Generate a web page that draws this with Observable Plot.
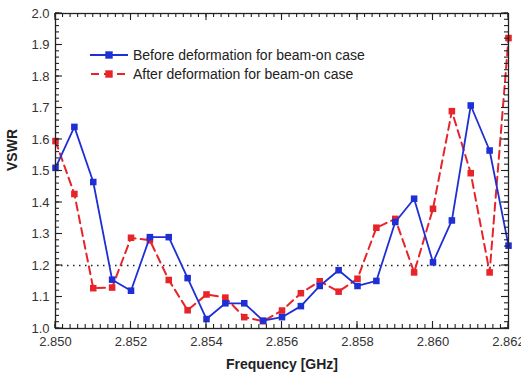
<!DOCTYPE html>
<html>
<head>
<meta charset="utf-8">
<script src="https://cdn.jsdelivr.net/npm/d3@7"></script>
<script src="https://cdn.jsdelivr.net/npm/@observablehq/plot@0.6"></script>
<style>
  html, body { margin: 0; padding: 0; background: #fff; }
  #chart { position: relative; width: 521px; height: 376px; font-family: "Liberation Sans", Arial, sans-serif; }
  #legend { position: absolute; left: 88px; top: 45px; }
</style>
</head>
<body>
<div id="chart"></div>
<script>
const freq = [2.850, 2.8505, 2.851, 2.8515, 2.852, 2.8525, 2.853, 2.8535, 2.854, 2.8545, 2.855, 2.8555, 2.856, 2.8565, 2.857, 2.8575, 2.858, 2.8585, 2.859, 2.8595, 2.860, 2.8605, 2.861, 2.8615, 2.862];
const before = [1.51, 1.64, 1.465, 1.155, 1.12, 1.29, 1.29, 1.16, 1.03, 1.08, 1.08, 1.025, 1.036, 1.071, 1.135, 1.185, 1.135, 1.151, 1.338, 1.412, 1.21, 1.343, 1.708, 1.565, 1.263];
const after = [1.595, 1.427, 1.128, 1.13, 1.288, 1.28, 1.154, 1.058, 1.108, 1.098, 1.036, 1.023, 1.057, 1.112, 1.15, 1.117, 1.158, 1.32, 1.348, 1.178, 1.38, 1.69, 1.493, 1.178, 1.922];
const seriesNames = ["Before deformation for beam-on case", "After deformation for beam-on case"];
const threshold = [1.2];
const xTicks = [2.850, 2.852, 2.854, 2.856, 2.858, 2.860, 2.862];
const yTicks = [1.0, 1.1, 1.2, 1.3, 1.4, 1.5, 1.6, 1.7, 1.8, 1.9, 2.0];

const blue = "#1f2fd6";
const red = "#e8242b";
const xMinor = d3.range(0, 61).map(i => 2.850 + i * 0.0002);
const yMinor = d3.range(0, 51).map(i => 1.0 + i * 0.02);

const rowsB = freq.map((f, i) => ({f, v: before[i]}));
const rowsA = freq.map((f, i) => ({f, v: after[i]}));

const W = 521, H = 376, mL = 55, mR = 13, mT = 13, mB = 48;

const plot = Plot.plot({
  width: W,
  height: H,
  marginLeft: mL,
  marginRight: mR,
  marginTop: mT,
  marginBottom: mB,
  style: {fontFamily: "Liberation Sans, Arial, sans-serif", fontSize: "13px", background: "white"},
  x: {domain: [2.850, 2.862]},
  y: {domain: [1.0, 2.0]},
  marks: [
    Plot.ruleY(threshold, {stroke: "#222", strokeWidth: 1.5, strokeDasharray: "1.5,4.5"}),
    Plot.line(rowsA, {x: "f", y: "v", stroke: red, strokeWidth: 2, strokeDasharray: "8,5"}),
    Plot.dot(rowsA, {x: "f", y: "v", symbol: "square", r: 3.7, fill: red}),
    Plot.line(rowsB, {x: "f", y: "v", stroke: blue, strokeWidth: 1.8}),
    Plot.dot(rowsB, {x: "f", y: "v", symbol: "square", r: 3.7, fill: blue}),
    Plot.axisX({anchor: "bottom", ticks: xTicks, tickSize: 0, tickPadding: 8, tickFormat: d3.format(".3f"), label: null, fontSize: 13, fill: "#333"}),
    Plot.axisY({anchor: "left", ticks: yTicks, tickSize: 0, tickPadding: 6, tickFormat: d3.format(".1f"), label: null, fontSize: 13, fill: "#333"}),
    Plot.frame({stroke: "#222", strokeWidth: 1.3}),
    Plot.text(["Frequency [GHz]"], {frameAnchor: "bottom", dy: 40, fontSize: 14, fontWeight: "bold", fill: "#222"}),
    Plot.text(["VSWR"], {frameAnchor: "left", dx: -43, rotate: -90, fontSize: 14, fontWeight: "bold", fill: "#222"})
  ]
});
document.getElementById("chart").appendChild(plot);

// inward ticks on all four sides, positioned through the plot's own scales
(function () {
  const sx = plot.scale("x"), sy = plot.scale("y");
  const pLeft = mL, pRight = W - mR, pTop = mT, pBottom = H - mB;
  const tg = d3.select(plot).append("g").attr("stroke", "#222").attr("stroke-width", 1.1);
  function xTickLines(vals, len) {
    vals.forEach(v => {
      const px = sx.apply(v);
      tg.append("line").attr("x1", px).attr("x2", px).attr("y1", pBottom).attr("y2", pBottom - len);
      tg.append("line").attr("x1", px).attr("x2", px).attr("y1", pTop).attr("y2", pTop + len);
    });
  }
  function yTickLines(vals, len) {
    vals.forEach(v => {
      const py = sy.apply(v);
      tg.append("line").attr("y1", py).attr("y2", py).attr("x1", pLeft).attr("x2", pLeft + len);
      tg.append("line").attr("y1", py).attr("y2", py).attr("x1", pRight).attr("x2", pRight - len);
    });
  }
  xTickLines(xMinor, 4);
  xTickLines(xTicks, 7);
  yTickLines(yMinor, 4);
  yTickLines(yTicks, 7);
})();

// legend
const lg = d3.select("#chart").append("svg").attr("id", "legend").attr("width", 320).attr("height", 44)
  .style("font-family", "Liberation Sans, Arial, sans-serif");
seriesNames.forEach((name, i) => {
  const y = 10 + i * 19;
  const col = i === 0 ? blue : red;
  lg.append("line").attr("x1", 2).attr("x2", 40).attr("y1", y).attr("y2", y)
    .attr("stroke", col).attr("stroke-width", i === 0 ? 1.8 : 2)
    .attr("stroke-dasharray", i === 0 ? null : "8,5").attr("stroke-dashoffset", i === 0 ? 0 : -1);
  lg.append("rect").attr("x", 21 - 3.7).attr("y", y - 3.7).attr("width", 7.4).attr("height", 7.4).attr("fill", col);
  lg.append("text").attr("x", 45).attr("y", y).attr("dy", "0.35em").attr("font-size", 14).attr("fill", "#222").text(name);
});
</script>
</body>
</html>
